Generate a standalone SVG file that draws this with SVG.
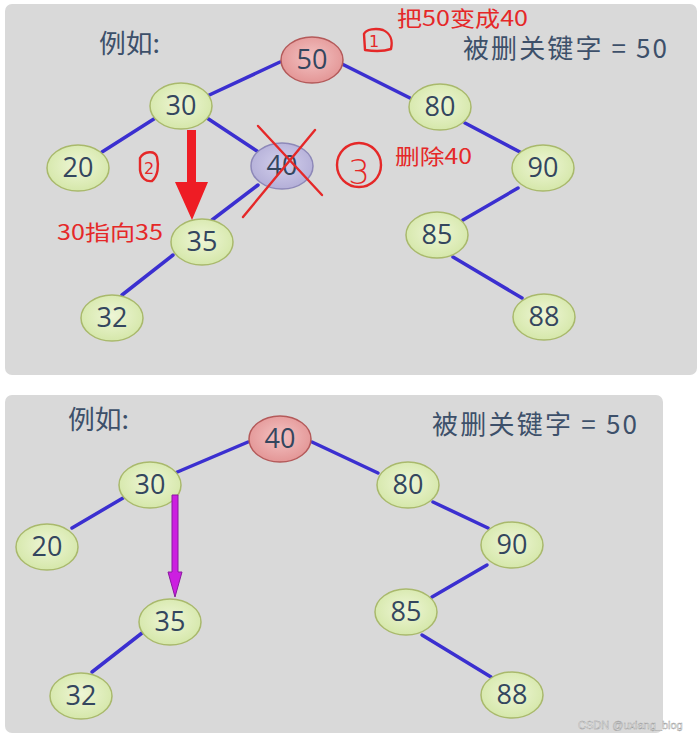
<svg xmlns="http://www.w3.org/2000/svg" width="698" height="739" viewBox="0 0 698 739">
<defs>
<radialGradient id="gG" cx="50%" cy="45%" r="60%">
<stop offset="0" stop-color="#eef6d6"/><stop offset="1" stop-color="#d3e6a6"/>
</radialGradient>
<radialGradient id="gR" cx="50%" cy="45%" r="60%">
<stop offset="0" stop-color="#f3c3c3"/><stop offset="1" stop-color="#e29292"/>
</radialGradient>
<radialGradient id="gP" cx="50%" cy="45%" r="60%">
<stop offset="0" stop-color="#d3d0ec"/><stop offset="1" stop-color="#b1acd6"/>
</radialGradient>
<style>
.panel{fill:#d9d9d9}
.g{fill:url(#gG);stroke:#a9b96c;stroke-width:1.5}
.r{fill:url(#gR);stroke:#b45a5a;stroke-width:1.5}
.p{fill:url(#gP);stroke:#8d88b8;stroke-width:1.5}
.num{font-family:"Open Sans","Noto Sans",sans-serif;font-size:27px;fill:#34465e;text-anchor:middle}
.title{font-family:"Noto Sans CJK SC","Noto Sans",sans-serif;font-size:26px;fill:#3d506a}
.edge{stroke:#3b2fd0;stroke-width:3.5;fill:none;stroke-linecap:round}
.red{font-family:"Noto Sans CJK SC","Noto Sans",sans-serif;font-size:21px;fill:#e52828}
.hand{fill:none;stroke:#e52828;stroke-width:2.4;stroke-linecap:round;stroke-linejoin:round}
.handtxt{font-family:"DejaVu Sans",sans-serif;fill:#e52828;text-anchor:middle}
</style>
</defs>
<rect width="698" height="739" fill="#ffffff"/>
<rect class="panel" x="5" y="4" width="692" height="371" rx="7"/>
<rect class="panel" x="5" y="395" width="658" height="338" rx="7"/>

<g id="connectors">
<line class="edge" x1="205" y1="97" x2="280" y2="62"/>
<line class="edge" x1="342" y1="64" x2="410" y2="98"/>
<line class="edge" x1="157" y1="117" x2="102" y2="152"/>
<line class="edge" x1="207" y1="118" x2="260" y2="153"/>
<line class="edge" x1="465" y1="123" x2="520" y2="152"/>
<line class="edge" x1="518" y1="188" x2="463" y2="220"/>
<line class="edge" x1="453" y1="257" x2="522" y2="298"/>
<line class="edge" x1="258" y1="185" x2="212" y2="220"/>
<line class="edge" x1="173" y1="255" x2="122" y2="295"/>

<line class="edge" x1="175" y1="473" x2="248" y2="442"/>
<line class="edge" x1="312" y1="442" x2="378" y2="473"/>
<line class="edge" x1="123" y1="498" x2="72" y2="528"/>
<line class="edge" x1="433" y1="502" x2="488" y2="528"/>
<line class="edge" x1="487" y1="565" x2="432" y2="597"/>
<line class="edge" x1="422" y1="635" x2="491" y2="677"/>
<line class="edge" x1="142" y1="633" x2="92" y2="672"/>
</g>

<g id="node-top-50"><ellipse class="r" cx="312" cy="60" rx="31" ry="23"/><text class="num" x="312" y="69">50</text></g>
<g id="node-top-30"><ellipse class="g" cx="181" cy="106" rx="31" ry="23"/><text class="num" x="181" y="115">30</text></g>
<g id="node-top-20"><ellipse class="g" cx="78" cy="168" rx="31" ry="23"/><text class="num" x="78" y="177">20</text></g>
<g id="node-top-40"><ellipse class="p" cx="282" cy="166" rx="31" ry="23"/><text class="num" x="282" y="175">40</text></g>
<g id="node-top-80"><ellipse class="g" cx="440" cy="107" rx="31" ry="23"/><text class="num" x="440" y="116">80</text></g>
<g id="node-top-90"><ellipse class="g" cx="543" cy="168" rx="31" ry="23"/><text class="num" x="543" y="177">90</text></g>
<g id="node-top-35"><ellipse class="g" cx="202" cy="242" rx="31" ry="23"/><text class="num" x="202" y="251">35</text></g>
<g id="node-top-32"><ellipse class="g" cx="112" cy="318" rx="31" ry="23"/><text class="num" x="112" y="327">32</text></g>
<g id="node-top-85"><ellipse class="g" cx="437" cy="235" rx="31" ry="23"/><text class="num" x="437" y="244">85</text></g>
<g id="node-top-88"><ellipse class="g" cx="544" cy="317" rx="31" ry="23"/><text class="num" x="544" y="326">88</text></g>

<g id="node-bot-40"><ellipse class="r" cx="280" cy="439" rx="31" ry="23"/><text class="num" x="280" y="448">40</text></g>
<g id="node-bot-30"><ellipse class="g" cx="150" cy="485" rx="31" ry="23"/><text class="num" x="150" y="494">30</text></g>
<g id="node-bot-20"><ellipse class="g" cx="47" cy="547" rx="31" ry="23"/><text class="num" x="47" y="556">20</text></g>
<g id="node-bot-80"><ellipse class="g" cx="408" cy="485" rx="31" ry="23"/><text class="num" x="408" y="494">80</text></g>
<g id="node-bot-90"><ellipse class="g" cx="512" cy="545" rx="31" ry="23"/><text class="num" x="512" y="554">90</text></g>
<g id="node-bot-35"><ellipse class="g" cx="170" cy="622" rx="31" ry="23"/><text class="num" x="170" y="631">35</text></g>
<g id="node-bot-32"><ellipse class="g" cx="81" cy="696" rx="31" ry="23"/><text class="num" x="81" y="705">32</text></g>
<g id="node-bot-85"><ellipse class="g" cx="406" cy="612" rx="31" ry="23"/><text class="num" x="406" y="621">85</text></g>
<g id="node-bot-88"><ellipse class="g" cx="512" cy="695" rx="31" ry="23"/><text class="num" x="512" y="704">88</text></g>

<g id="labels">
<text class="title" x="99" y="53" textLength="61" lengthAdjust="spacingAndGlyphs">例如:</text>
<text class="title" x="463" y="58" textLength="204" lengthAdjust="spacing">被删关键字 = 50</text>
<text class="title" x="68" y="429" textLength="61" lengthAdjust="spacingAndGlyphs">例如:</text>
<text class="title" x="432" y="434" textLength="205" lengthAdjust="spacing">被删关键字 = 50</text>
</g>

<g id="annotations">
<text class="red" x="397" y="26" textLength="131" lengthAdjust="spacingAndGlyphs">把50变成40</text>
<path class="hand" d="M365,50 L364,34 C366,29 376,28 383,30 C390,33 393,40 391,49 C382,52 372,51 365,50 Z"/>
<text class="handtxt" x="374" y="47" font-size="16">1</text>
<text class="red" x="395" y="164" textLength="77" lengthAdjust="spacingAndGlyphs">删除40</text>
<ellipse class="hand" cx="359" cy="165" rx="22" ry="22"/>
<text class="handtxt" x="359" y="184" font-size="34" font-weight="300">3</text>
<path class="hand" d="M140,158 C144,151 155,150 157,157 C159,166 158,176 152,181 C146,182 141,178 140,170 Z"/>
<text class="handtxt" x="149" y="174" font-size="16">2</text>
<text class="red" x="57" y="240" textLength="106" lengthAdjust="spacingAndGlyphs">30指向35</text>
<line class="hand" x1="258" y1="126" x2="322" y2="195"/>
<line class="hand" x1="315" y1="130" x2="243" y2="217"/>
<polygon fill="#ee1c24" points="187,130 196,130 196,182 208,182 192,220 175,182 187,182"/>
<polygon fill="#cc1fe0" stroke="#8a1aa0" stroke-width="1" points="172,495 178,495 178,572 182,572 175,597 168,572 172,572"/>
</g>
<text x="578" y="729" font-family="Liberation Sans,Arial,sans-serif" font-size="11" fill="#f2f2f2" stroke="#9a9a9a" stroke-width="0.4">CSDN @uxiang_blog</text>
</svg>
